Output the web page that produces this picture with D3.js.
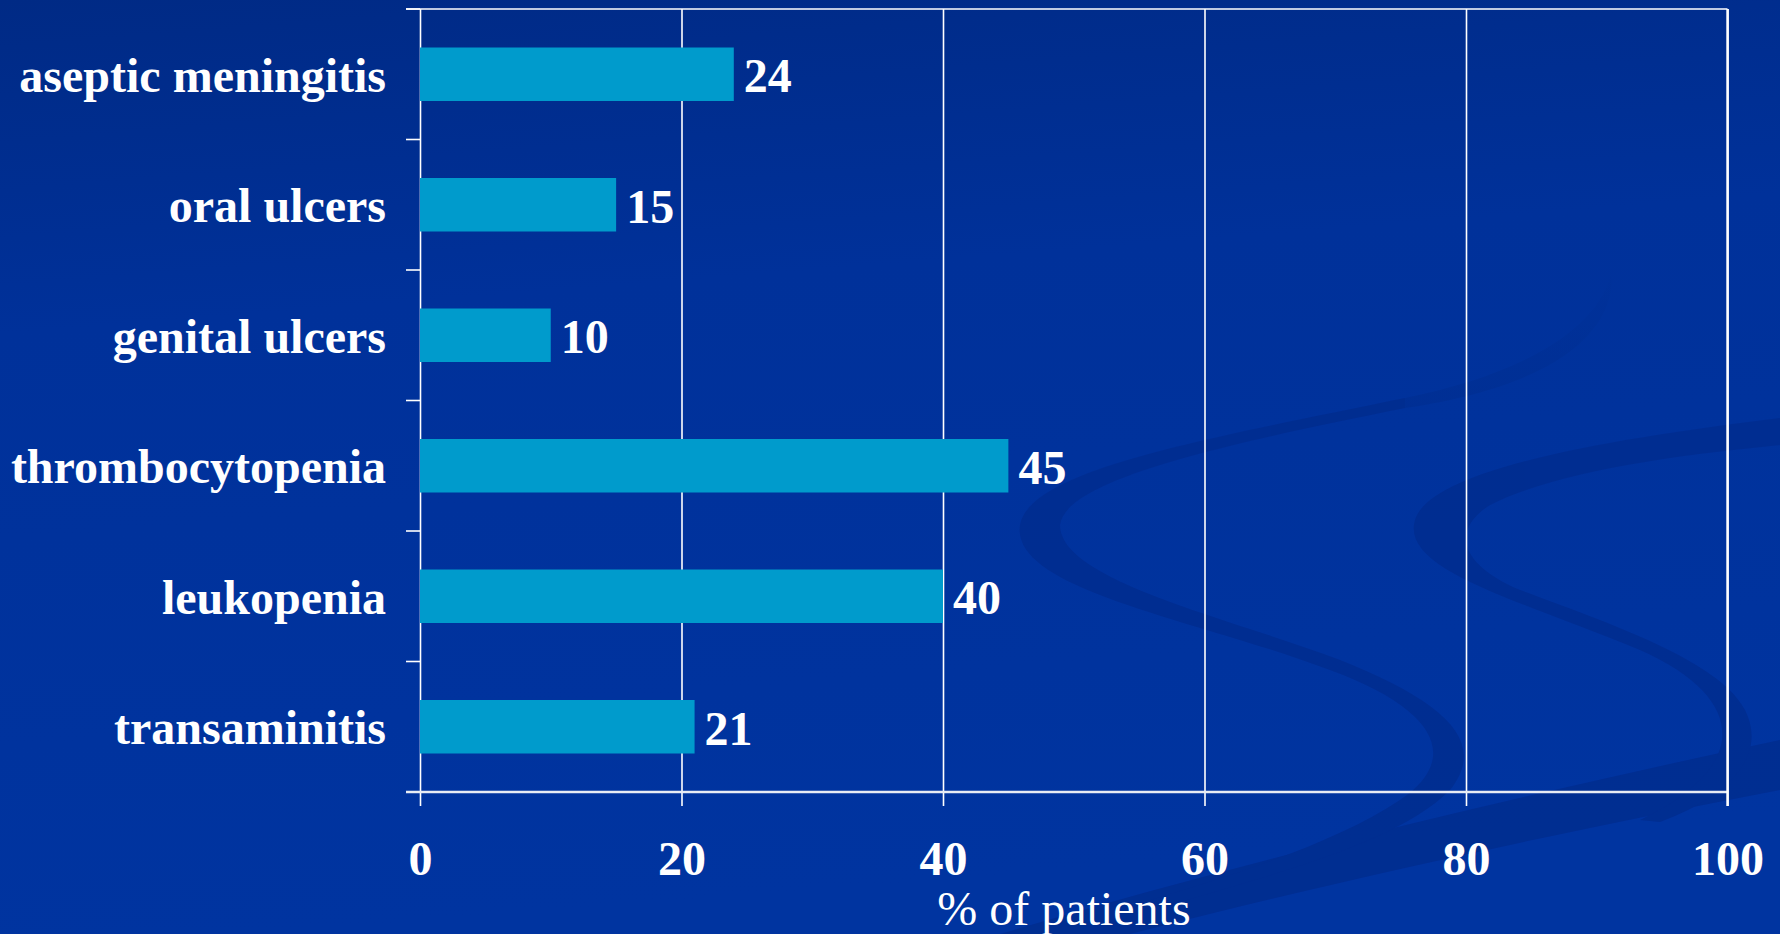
<!DOCTYPE html>
<html>
<head>
<meta charset="utf-8">
<script src="https://cdn.jsdelivr.net/npm/d3@7"></script>
<style>
  html, body { margin: 0; padding: 0; background: #0033a0; overflow: hidden; }
  svg { display: block; }
</style>
</head>
<body>
<svg id="chart" width="1780" height="934"></svg>
<script>
// Adverse events, share of patients (%)
const categories = ["aseptic meningitis", "oral ulcers", "genital ulcers", "thrombocytopenia", "leukopenia", "transaminitis"];
const values = [24, 15, 10, 45, 40, 21];
const xTicks = [0, 20, 40, 60, 80, 100];
const xTitle = "% of patients";

const W = 1780, H = 934;
const plot = { left: 420, right: 1727.5, top: 9, bottom: 792 };
const serif = "'Liberation Serif', 'Times New Roman', Times, serif";

const svg = d3.select("#chart");

// Slide background
const defs = svg.append("defs");
const bg = defs.append("linearGradient").attr("id", "bg")
  .attr("x1", 0).attr("y1", 0).attr("x2", 0.15).attr("y2", 1);
bg.append("stop").attr("offset", 0).attr("stop-color", "#002a85");
bg.append("stop").attr("offset", 0.35).attr("stop-color", "#00319a");
bg.append("stop").attr("offset", 1).attr("stop-color", "#0034a0");
svg.append("rect").attr("width", W).attr("height", H).attr("fill", "url(#bg)");

// Decorative ribbons of the slide template
const fade = defs.append("linearGradient").attr("id", "fade")
  .attr("gradientUnits", "userSpaceOnUse")
  .attr("x1", 0).attr("y1", 260).attr("x2", 0).attr("y2", 470);
fade.append("stop").attr("offset", 0).attr("stop-color", "#002d8f").attr("stop-opacity", 0);
fade.append("stop").attr("offset", 1).attr("stop-color", "#002d8f").attr("stop-opacity", 0.85);

const deco = svg.append("g").attr("fill", "#002d8f").attr("opacity", 0.85);
deco.append("path").attr("d",
  "M1000,934 C1250,860 1500,800 1780,740 L1780,790 C1520,840 1300,890 1130,934 Z");
deco.append("path").attr("d",
  "M1405,398 C1200,440 1030,470 1020,525 C1010,590 1200,620 1330,670 C1440,710 1460,760 1400,800 C1340,840 1250,870 1150,900 " +
  "L1170,905 C1290,870 1400,840 1450,790 C1490,740 1440,700 1340,660 C1220,615 1060,580 1060,525 C1065,480 1220,445 1405,408 Z");
deco.append("path").attr("d",
  "M1780,418 C1600,440 1430,470 1415,520 C1400,570 1520,600 1640,650 C1730,690 1740,740 1700,780 C1680,800 1660,810 1640,820 " +
  "L1660,822 C1720,800 1770,760 1745,710 C1720,660 1600,620 1520,590 C1460,565 1450,530 1490,505 C1560,470 1680,455 1780,445 Z");
svg.append("path").attr("fill", "url(#fade)").attr("d",
  "M1405,398 C1520,375 1600,330 1612,270 C1616,330 1560,385 1405,408 Z");

const x = d3.scaleLinear().domain([0, 100]).range([plot.left, plot.right]);
const y = d3.scaleBand().domain(categories).range([plot.top, plot.bottom])
  .paddingInner(0.59).paddingOuter(0.295);

// Vertical gridlines with downward tick marks
const xAxis = d3.axisBottom(x).tickValues(xTicks).tickSize(14).tickSizeOuter(0).tickFormat(d3.format("d"));
const gx = svg.append("g").attr("transform", `translate(0,${plot.bottom})`).call(xAxis);
gx.select(".domain").remove();
gx.selectAll(".tick line").attr("stroke", "#ffffff").attr("stroke-width", 1.6)
  .attr("y1", -(plot.bottom - plot.top));
gx.selectAll(".tick text")
  .attr("fill", "#ffffff").attr("y", 83).attr("dy", 0)
  .style("font-family", serif).style("font-weight", "bold").style("font-size", "48px");

// Category boundary ticks on the left axis
const bounds = d3.range(categories.length + 1).map(i => plot.top + i * (plot.bottom - plot.top) / categories.length);
svg.append("g").selectAll("line").data(bounds).join("line")
  .attr("x1", plot.left - 14).attr("x2", plot.left)
  .attr("y1", d => d).attr("y2", d => d)
  .attr("stroke", "#ffffff").attr("stroke-width", 1.6);

// Frame: top, right and bottom lines
svg.append("line").attr("x1", plot.left - 14).attr("x2", plot.right)
  .attr("y1", plot.top).attr("y2", plot.top).attr("stroke", "#ffffff").attr("stroke-width", 1.6);
svg.append("line").attr("x1", plot.left - 14).attr("x2", plot.right)
  .attr("y1", plot.bottom).attr("y2", plot.bottom).attr("stroke", "#e8ecf4").attr("stroke-width", 2.4);
svg.append("line").attr("x1", plot.right).attr("x2", plot.right)
  .attr("y1", plot.top).attr("y2", plot.bottom + 14).attr("stroke", "#ffffff").attr("stroke-width", 2.4);

// Bars
svg.append("g").selectAll("rect").data(categories).join("rect")
  .attr("x", x(0))
  .attr("y", d => y(d))
  .attr("width", (d, i) => x(values[i]) - x(0))
  .attr("height", y.bandwidth())
  .attr("fill", "#009bcc");

// Value labels
svg.append("g").selectAll("text").data(categories).join("text")
  .attr("x", (d, i) => x(values[i]) + 10)
  .attr("y", d => y(d) + y.bandwidth() / 2 + 18)
  .attr("fill", "#ffffff")
  .style("font-family", serif).style("font-weight", "bold").style("font-size", "48px")
  .text((d, i) => values[i]);

// Category labels
svg.append("g").selectAll("text").data(categories).join("text")
  .attr("x", plot.left - 34)
  .attr("y", d => y(d) + y.bandwidth() / 2 + 17.5)
  .attr("text-anchor", "end")
  .attr("fill", "#ffffff")
  .style("font-family", serif).style("font-weight", "bold").style("font-size", "48px")
  .text(d => d);

// Axis title
svg.append("text")
  .attr("x", 1064).attr("y", 925)
  .attr("text-anchor", "middle")
  .attr("fill", "#ffffff")
  .style("font-family", serif).style("font-size", "48px")
  .text(xTitle);
</script>
</body>
</html>
